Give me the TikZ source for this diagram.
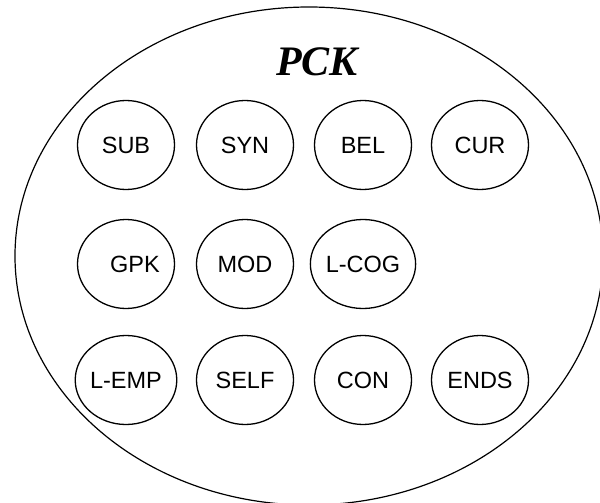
\documentclass[tikz,border=0pt]{standalone}
\usepackage{fontspec}
\newfontfamily\labelfont{Liberation Sans}
\newfontfamily\titlefont{Liberation Serif}
\usepackage{tikz}
\usetikzlibrary{shapes.geometric}

\begin{document}
\begin{tikzpicture}[x=1pt,y=-1pt,
	comp/.style={ellipse,draw,line width=1.3pt,minimum width=97pt,minimum height=89pt,inner sep=0pt,font=\labelfont\fontsize{23.5}{28}\selectfont}]
	\useasboundingbox (0,0) rectangle (600,503);
	
	\draw [line width=1.2pt] (309,256) ellipse [x radius=294, y radius=249];
	\node (pck) at (317,62) {\titlefont\fontsize{42}{50}\selectfont\bfseries\itshape PCK};
	
	\foreach \x/\name in {126/SUB,245/SYN,363/BEL,480/CUR}
	\node (\name) [comp] at (\x,145) {\name};
	\node (GPK) [comp] at (126,264) {\hspace{18pt}GPK};
	\foreach \x/\name in {245/MOD,363/L-COG}
	\node (\name) [comp] at (\x,264) {\name};
	\foreach \x/\name in {126/L-EMP,245/SELF,363/CON,480/ENDS}
	\node (\name) [comp] at (\x,380) {\name};
	
\end{tikzpicture}
\end{document}
